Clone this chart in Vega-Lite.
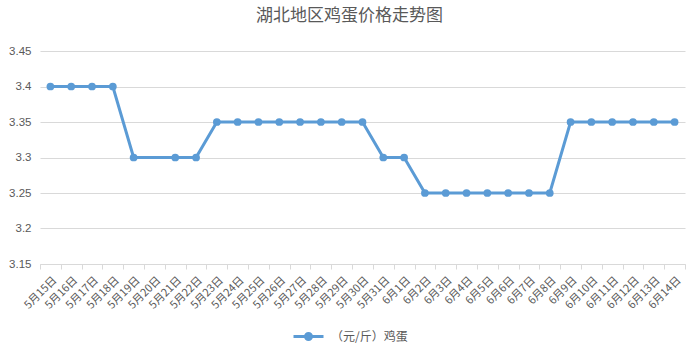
{
  "$schema": "https://vega.github.io/schema/vega-lite/v6.json",
  "autosize": {"type": "none"},
  "width": 645,
  "height": 213,
  "padding": {"left": 40, "top": 51, "right": 15, "bottom": 91},
  "background": "white",
  "title": {
    "text": "湖北地区鸡蛋价格走势图",
    "font": "Noto Sans CJK SC",
    "fontSize": 17,
    "fontWeight": "normal",
    "color": "#595959",
    "anchor": "middle",
    "frame": "group",
    "dx": -13,
    "offset": 20
  },
  "config": {
    "view": {"stroke": null},
    "font": "Noto Sans CJK SC"
  },
  "data": {
    "values": [
      {"date": "5月15日", "price": 3.4, "series": "（元/斤）鸡蛋"},
      {"date": "5月16日", "price": 3.4, "series": "（元/斤）鸡蛋"},
      {"date": "5月17日", "price": 3.4, "series": "（元/斤）鸡蛋"},
      {"date": "5月18日", "price": 3.4, "series": "（元/斤）鸡蛋"},
      {"date": "5月19日", "price": 3.3, "series": "（元/斤）鸡蛋"},
      {"date": "5月21日", "price": 3.3, "series": "（元/斤）鸡蛋"},
      {"date": "5月22日", "price": 3.3, "series": "（元/斤）鸡蛋"},
      {"date": "5月23日", "price": 3.35, "series": "（元/斤）鸡蛋"},
      {"date": "5月24日", "price": 3.35, "series": "（元/斤）鸡蛋"},
      {"date": "5月25日", "price": 3.35, "series": "（元/斤）鸡蛋"},
      {"date": "5月26日", "price": 3.35, "series": "（元/斤）鸡蛋"},
      {"date": "5月27日", "price": 3.35, "series": "（元/斤）鸡蛋"},
      {"date": "5月28日", "price": 3.35, "series": "（元/斤）鸡蛋"},
      {"date": "5月29日", "price": 3.35, "series": "（元/斤）鸡蛋"},
      {"date": "5月30日", "price": 3.35, "series": "（元/斤）鸡蛋"},
      {"date": "5月31日", "price": 3.3, "series": "（元/斤）鸡蛋"},
      {"date": "6月1日", "price": 3.3, "series": "（元/斤）鸡蛋"},
      {"date": "6月2日", "price": 3.25, "series": "（元/斤）鸡蛋"},
      {"date": "6月3日", "price": 3.25, "series": "（元/斤）鸡蛋"},
      {"date": "6月4日", "price": 3.25, "series": "（元/斤）鸡蛋"},
      {"date": "6月5日", "price": 3.25, "series": "（元/斤）鸡蛋"},
      {"date": "6月6日", "price": 3.25, "series": "（元/斤）鸡蛋"},
      {"date": "6月7日", "price": 3.25, "series": "（元/斤）鸡蛋"},
      {"date": "6月8日", "price": 3.25, "series": "（元/斤）鸡蛋"},
      {"date": "6月9日", "price": 3.35, "series": "（元/斤）鸡蛋"},
      {"date": "6月10日", "price": 3.35, "series": "（元/斤）鸡蛋"},
      {"date": "6月11日", "price": 3.35, "series": "（元/斤）鸡蛋"},
      {"date": "6月12日", "price": 3.35, "series": "（元/斤）鸡蛋"},
      {"date": "6月13日", "price": 3.35, "series": "（元/斤）鸡蛋"},
      {"date": "6月14日", "price": 3.35, "series": "（元/斤）鸡蛋"}
    ]
  },
  "encoding": {
    "x": {
      "field": "date",
      "type": "ordinal",
      "sort": null,
      "scale": {
        "type": "band",
        "paddingInner": 0,
        "paddingOuter": 0,
        "domain": ["5月15日","5月16日","5月17日","5月18日","5月19日","5月20日","5月21日","5月22日","5月23日","5月24日","5月25日","5月26日","5月27日","5月28日","5月29日","5月30日","5月31日","6月1日","6月2日","6月3日","6月4日","6月5日","6月6日","6月7日","6月8日","6月9日","6月10日","6月11日","6月12日","6月13日","6月14日"]
      },
      "axis": {
        "title": null,
        "labelAngle": -45,
        "labelFontSize": 11,
        "labelColor": "#595959",
        "labelFont": "Noto Sans CJK SC",
        "labelPadding": 5,
        "domainColor": "#d9d9d9",
        "tickColor": "#d9d9d9",
        "tickSize": 5,
        "tickBand": "extent",
        "grid": false
      }
    },
    "y": {
      "field": "price",
      "type": "quantitative",
      "scale": {"domain": [3.15, 3.45], "zero": false, "nice": false},
      "axis": {
        "title": null,
        "values": [3.15, 3.2, 3.25, 3.3, 3.35, 3.4, 3.45],
        "format": ".2~f",
        "labelFontSize": 11.5,
        "labelColor": "#595959",
        "labelFont": "Liberation Sans",
        "labelPadding": 9,
        "ticks": false,
        "domain": false,
        "gridColor": "#d9d9d9",
        "gridWidth": 1
      }
    },
    "color": {
      "field": "series",
      "type": "nominal",
      "scale": {"range": ["#5b9bd5"]},
      "legend": {
        "title": null,
        "orient": "none",
        "legendX": 252,
        "legendY": 269,
        "symbolType": "M-1,0L1,0M-0.2,0A0.2,0.2,0,1,1,0.2,0A0.2,0.2,0,1,1,-0.2,0Z",
        "symbolSize": 900,
        "symbolStrokeWidth": 3,
        "symbolFillColor": "#5b9bd5",
        "symbolStrokeColor": "#5b9bd5",
        "labelFontSize": 12,
        "labelColor": "#595959",
        "labelFont": "Noto Sans CJK SC",
        "labelOffset": 6
      }
    }
  },
  "layer": [
    {"mark": {"type": "line", "strokeWidth": 3}},
    {"mark": {"type": "point", "filled": true, "size": 60, "opacity": 1}}
  ]
}
